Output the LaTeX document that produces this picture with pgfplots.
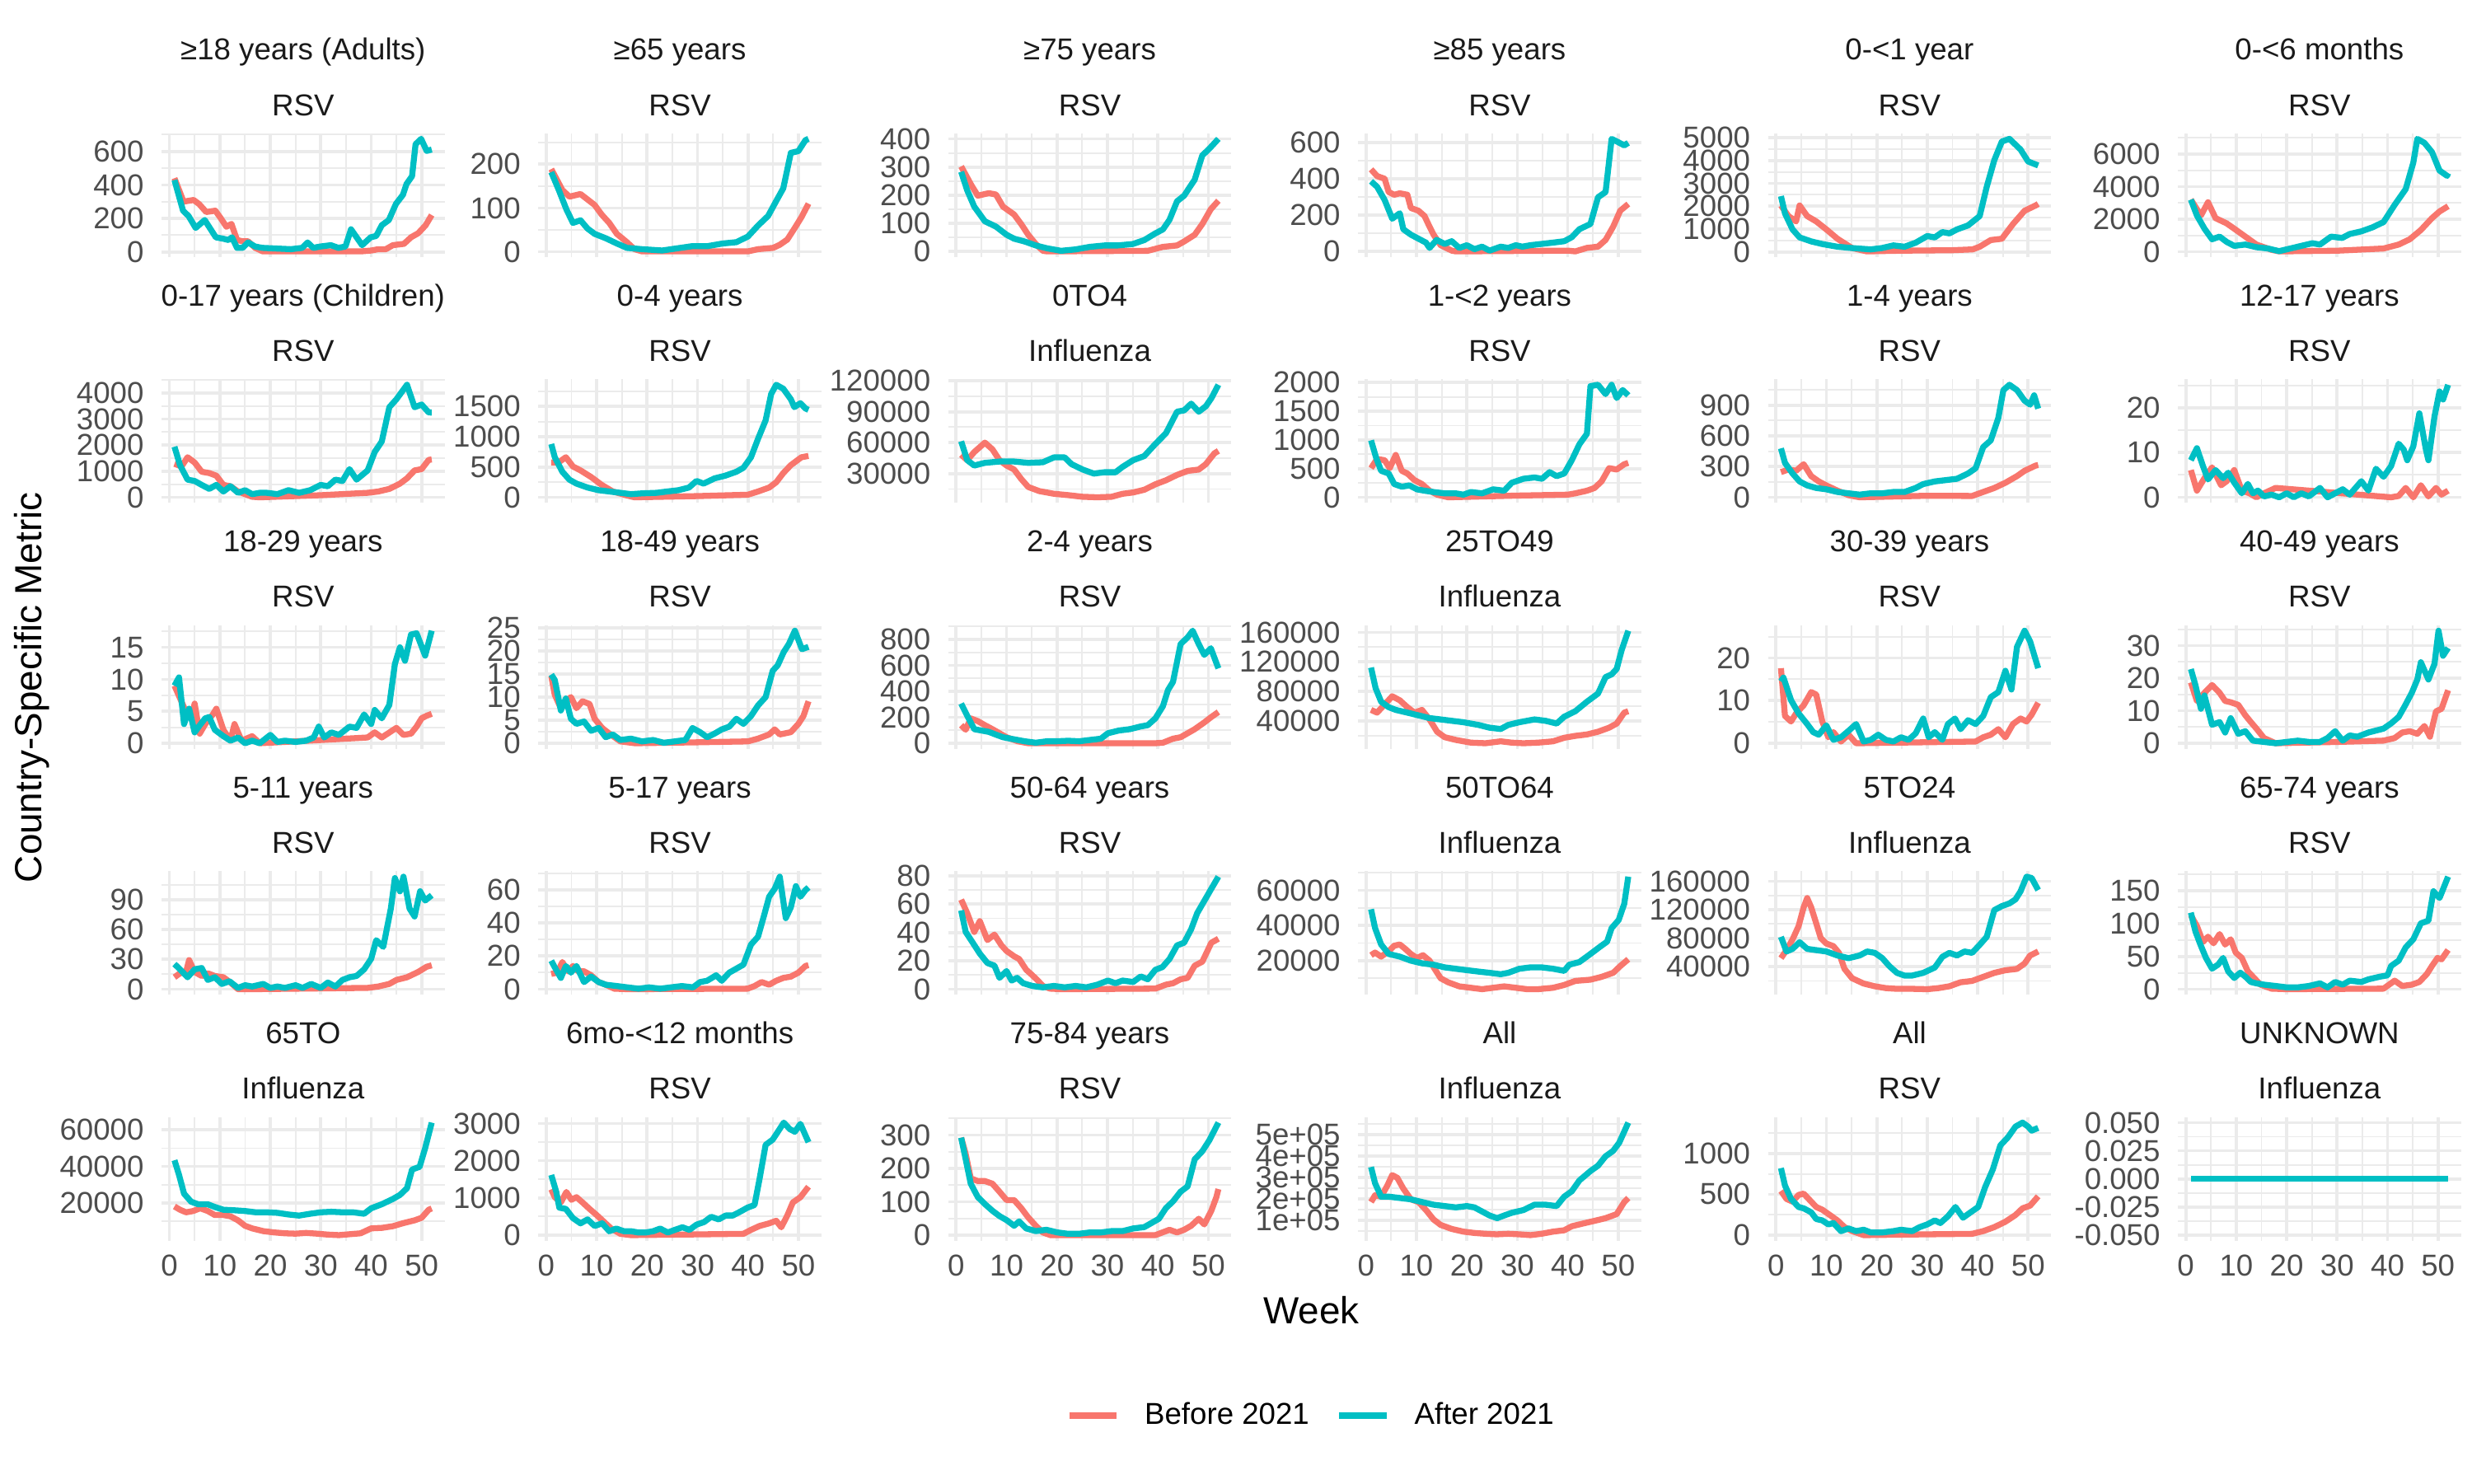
\documentclass[border=0pt]{standalone}
\usepackage{pgfplots}
\pgfplotsset{compat=1.18}
\usepackage{fontspec}
\setmainfont{Liberation Sans}
\definecolor{cb}{HTML}{F8766D}
\definecolor{ca}{HTML}{00BFC4}
\definecolor{gridc}{HTML}{EBEBEB}
\definecolor{tickc}{HTML}{4D4D4D}
\definecolor{stripc}{HTML}{1A1A1A}
\newcommand\fs{\fontsize{8.8}{10.5}\selectfont}
\newcommand\fl{\fontsize{11}{13}\selectfont}
\def\cA{47.07pt}\def\cB{156.81pt}\def\cC{276.20pt}\def\cD{395.58pt}\def\cE{514.97pt}\def\cF{634.36pt}
\def\rA{-38.80pt}\def\rB{-110.43pt}\def\rC{-182.06pt}\def\rD{-253.70pt}\def\rE{-325.33pt}
\newcommand{\strip}[2]{%
 \node[font=\fs, text=stripc, anchor=base, inner sep=0pt, yshift=21.3pt] at (rel axis cs:0.5,1) {#1};
 \node[font=\fs, text=stripc, anchor=base, inner sep=0pt, yshift=5.2pt] at (rel axis cs:0.5,1) {#2};}
\pgfplotsset{
 bef/.style={color=cb, line width=1.75pt, line join=round, mark=none},
 aft/.style={color=ca, line width=1.75pt, line join=round, mark=none},
 panel/.style={
  scale only axis, width=82.42pt, height=36.05pt, anchor=north west,
  xmin=-1.55, xmax=54.55, enlarge x limits=false,
  xtick={0,10,20,30,40,50}, minor xtick={5,15,25,35,45},
  axis line style={draw=none}, major tick length=0pt, minor tick length=0pt,
  tick style={draw=none},
  grid=both,
  major grid style={color=gridc, line width=0.9pt},
  minor grid style={color=gridc, line width=0.45pt},
  enlarge y limits=0.05,
  scaled y ticks=false,
  clip=false,
  /pgf/number format/assume math mode=true,
  /pgf/number format/fixed, /pgf/number format/1000 sep={},
  ticklabel style={font=\fs, text=tickc},
  yticklabel style={anchor=east, inner sep=0pt, xshift=-5pt},
  xticklabel style={anchor=north, inner sep=0pt, yshift=-4pt},
 },
 nox/.style={xticklabels={}},
}
\begin{document}
\begin{tikzpicture}
\useasboundingbox (0,0) rectangle (720pt,-432pt);
% ---------------- Row 1
\begin{axis}[panel, nox, at={(\cA,\rA)}, ytick={0,200,400,600}, minor ytick={-100,100,300,500,700}]
\addplot[bef] coordinates {(1,440)(2.8,300)(4.8,310)(5.9,285)(7.3,238)(9.1,246)(10.2,200)(11.3,150)(12.3,167)(13.4,71)(14.5,63)(15.6,63)(17,24)(18.5,3)(38,3)(40,8)(41.4,16)(42.9,16)(44.3,40)(46.5,48)(47.9,87)(49.3,111)(50.8,159)(52,220)};
\addplot[aft] coordinates {(1,429)(2.7,246)(3.8,214)(5.2,143)(7,190)(9.2,87)(10.6,79)(11.7,71)(12.4,87)(13.4,24)(14.5,24)(15.6,56)(17,32)(18.4,24)(24.1,16)(26.3,24)(27.4,56)(28.5,24)(29.9,32)(32,40)(33.5,24)(34.9,32)(36,135)(38.2,40)(39.9,87)(41,95)(42.1,159)(43.5,190)(44.9,286)(46.3,341)(47,405)(48.1,452)(48.8,643)(49.9,675)(51,603)(52,611)};
\strip{≥18 years (Adults)}{RSV}
\end{axis}
\begin{axis}[panel, nox, at={(\cB,\rA)}, ytick={0,100,200}, minor ytick={-50,50,150,250}]
\addplot[bef] coordinates {(1,189)(3.2,141)(4.6,126)(6.8,132)(9.6,107)(11,85)(12.5,66)(14,41)(16,22)(17.5,6)(19,1)(40,1)(42,6)(45,9)(46.3,16)(47.8,28)(49.2,53)(50.6,79)(52,110)};
\addplot[aft] coordinates {(1,182)(2.5,141)(4,97)(5.3,66)(6.8,72)(8.2,53)(9.6,41)(11.8,31)(14,19)(16,9)(19,6)(23,3)(26,8)(29,13)(32,13)(35,19)(37.7,22)(40,35)(42,60)(44,82)(45.6,116)(47,145)(48.5,226)(50,230)(51.4,255)(52,258)};
\strip{≥65 years}{RSV}
\end{axis}
\begin{axis}[panel, nox, at={(\cC,\rA)}, ytick={0,100,200,300,400}, minor ytick={-50,50,150,250,350,450}]
\addplot[bef] coordinates {(1,302)(3,236)(4.3,198)(6.5,207)(7.9,202)(9.3,159)(11.5,131)(12.9,97)(14.3,59)(15.8,26)(17.2,2)(18,0)(38,2)(41,16)(43.8,21)(45.2,35)(47.3,59)(48.8,97)(50.5,150)(52,180)};
\addplot[aft] coordinates {(1,283)(2.2,217)(3.6,159)(5.7,107)(7.9,88)(10,59)(11.5,45)(13.6,35)(15.8,21)(18,11)(20.8,2)(23.7,7)(26.5,16)(29.4,21)(32,21)(35,26)(37.3,40)(39.5,64)(41,78)(42.3,112)(43.8,178)(45.2,198)(47.3,255)(48.8,341)(50.2,365)(52,400)};
\strip{≥75 years}{RSV}
\end{axis}
\begin{axis}[panel, nox, at={(\cD,\rA)}, ytick={0,200,400,600}, minor ytick={-100,100,300,500,700}]
\addplot[bef] coordinates {(1,452)(2.2,415)(3.7,400)(4.5,327)(5.6,312)(6.7,320)(8.2,312)(8.9,239)(10.4,224)(11.6,195)(12.6,136)(13.4,92)(14.8,34)(17,4)(17.8,0)(40,4)(41.5,0)(43.8,19)(46,26)(47.5,63)(49,136)(50.4,224)(52,261)};
\addplot[aft] coordinates {(1,386)(2.2,356)(3.7,283)(5.2,180)(6.7,210)(7.4,122)(8.9,92)(10.4,70)(11.9,48)(12.6,19)(14,63)(15.6,41)(17,56)(18.5,19)(20,34)(21.5,12)(23,26)(24.5,4)(26.7,26)(28.2,19)(29.7,34)(31,26)(32.6,34)(34.8,41)(37,48)(39.3,56)(40.8,78)(42.3,122)(44.5,151)(46,298)(47.5,327)(48.7,620)(49.7,606)(51.2,584)(52,598)};
\strip{≥85 years}{RSV}
\end{axis}
\begin{axis}[panel, nox, at={(\cE,\rA)}, ytick={0,1000,2000,3000,4000,5000}, minor ytick={-500,500,1500,2500,3500,4500,5500}]
\addplot[bef] coordinates {(1,2035)(2.5,1570)(4,1337)(4.7,2035)(6.2,1570)(8,1337)(10,988)(12.2,581)(15.1,174)(18,30)(25,60)(35,80)(39,116)(40.4,232)(42.6,523)(44.8,581)(47,1221)(49.3,1802)(51.5,2035)(52,2100)};
\addplot[aft] coordinates {(1,2442)(1.8,1686)(3.3,988)(4.7,640)(7,465)(9.2,349)(12.2,233)(15.1,174)(18.8,116)(21,174)(23.3,291)(25.5,233)(27.7,407)(30,698)(31.5,640)(33,872)(34.4,814)(35.9,988)(38.1,1163)(40.4,1570)(41.8,2849)(43.3,4012)(44.8,4826)(46.3,4942)(48.5,4477)(50,3954)(52,3780)};
\strip{0-<1 year}{RSV}
\end{axis}
\begin{axis}[panel, nox, at={(\cF,\rA)}, ytick={0,2000,4000,6000}, minor ytick={-1000,1000,3000,5000,7000}]
\addplot[bef] coordinates {(1,3203)(3,2228)(4.4,3040)(5.9,2065)(8.1,1740)(9.6,1415)(11.8,927)(14,439)(17,114)(18.5,20)(30,60)(39.2,195)(42.2,439)(44.4,764)(46.6,1333)(48.8,2065)(50.3,2472)(52,2797)};
\addplot[aft] coordinates {(1,3203)(2.2,2228)(3.7,1415)(5.2,764)(6.7,927)(8.1,602)(9.6,358)(11.8,439)(14,276)(16.3,195)(18.5,33)(20.7,195)(22.9,358)(25.1,520)(26.6,439)(28.8,927)(31,846)(32.5,1089)(34.8,1252)(37,1496)(39.2,1821)(41.4,2878)(43.6,3854)(45.1,5480)(45.9,6943)(47.3,6699)(48.8,6130)(50.3,4992)(51.8,4667)(52,4829)};
\strip{0-<6 months}{RSV}
\end{axis}
% ---------------- Row 2
\begin{axis}[panel, nox, at={(\cA,\rB)}, ytick={0,1000,2000,3000,4000}, minor ytick={-500,500,1500,2500,3500,4500}]
\addplot[bef] coordinates {(1,1283)(2.4,1182)(3.6,1535)(5,1333)(6.4,980)(7.9,929)(9.3,828)(10.7,475)(12.1,424)(13.6,222)(15,121)(16.4,20)(17.9,0)(30,80)(39.3,172)(41.4,222)(43.6,323)(45.7,525)(47.1,727)(48.6,1030)(50,1081)(51.4,1434)(52,1450)};
\addplot[aft] coordinates {(1,1939)(2.1,1232)(3.6,677)(5,626)(6.4,475)(7.9,323)(9.3,475)(10.7,222)(12.1,424)(13.6,172)(15,273)(16.4,121)(17.9,172)(19.3,172)(21.4,121)(23.6,273)(25.7,172)(27.9,273)(30,475)(31.4,424)(32.9,677)(34.3,626)(35.7,1081)(37.1,677)(39.3,1030)(40.7,1737)(42.1,2141)(43.6,3454)(45,3757)(47.1,4313)(48.6,3454)(50,3555)(51.4,3252)(52,3250)};
\strip{0-17 years (Children)}{RSV}
\end{axis}
\begin{axis}[panel, nox, at={(\cB,\rB)}, ytick={0,500,1000,1500}, minor ytick={-250,250,750,1250,1750}]
\addplot[bef] coordinates {(1,574)(2.4,574)(3.9,661)(5.3,509)(6.8,444)(8.9,335)(11,205)(13.2,96)(16,30)(17.5,0)(30,20)(40,43)(42,96)(44.2,161)(45.6,248)(47,400)(48.5,531)(50.6,661)(52,683)};
\addplot[aft] coordinates {(1,879)(1.7,661)(3.2,422)(4.6,291)(6,226)(8.2,161)(10.4,117)(12.5,96)(14.7,74)(16.8,52)(19,65)(21.9,74)(24,96)(26.2,117)(28.3,161)(29.8,270)(31.2,226)(33.4,313)(35.5,357)(37.7,422)(39.1,487)(40.6,661)(42,966)(43.5,1270)(44.6,1705)(45.6,1857)(47,1792)(48.5,1618)(49.2,1488)(50.4,1553)(51.4,1466)(52,1444)};
\strip{0-4 years}{RSV}
\end{axis}
\begin{axis}[panel, nox, at={(\cC,\rB)}, ytick={30000,60000,90000,120000}, minor ytick={15000,45000,75000,105000,135000}]
\addplot[bef] coordinates {(1,48300)(2.2,43000)(3.6,50900)(5.7,60000)(7.2,53500)(8.6,43000)(10,37800)(11.5,33900)(12.9,24800)(14.3,17000)(16.5,13000)(19.4,10400)(22.2,9100)(25.1,7500)(28,7000)(30.8,7500)(33,10400)(35.1,11700)(37.3,14300)(39.5,19600)(41.6,23500)(43.8,28700)(45.9,32600)(48.1,33900)(49.5,39100)(51.2,49600)(52,52000)};
\addplot[aft] coordinates {(1,61300)(2.2,43000)(3.6,37800)(5.7,40400)(8.6,41700)(11.5,41700)(14.3,40400)(17.2,41000)(19.4,45700)(21.5,45700)(22.9,39100)(25.1,33900)(27.3,30000)(29.4,31300)(31.6,31300)(33,36500)(35.1,43000)(37.3,47000)(39.5,58700)(41.6,69100)(43.8,90000)(45.2,91300)(46.6,97800)(48.1,90000)(49.5,95200)(50.6,103000)(52,116100)};
\strip{0TO4}{Influenza}
\end{axis}
\begin{axis}[panel, nox, at={(\cD,\rB)}, ytick={0,500,1000,1500,2000}, minor ytick={-250,250,750,1250,1750,2250}]
\addplot[bef] coordinates {(1,508)(2.2,669)(3.7,646)(4.7,508)(5.9,739)(7.1,462)(8.2,415)(9.6,300)(11.1,231)(12.6,115)(14.1,46)(16.3,0)(30,30)(40,46)(41.5,69)(43.8,115)(45.3,162)(46.7,277)(48.2,508)(49.7,485)(51.2,577)(52,600)};
\addplot[aft] coordinates {(1,993)(2,693)(3,462)(4.5,415)(5.6,231)(7.1,185)(8.6,208)(10.1,139)(11.6,115)(13.4,92)(15.6,69)(17.8,69)(19.3,46)(20.8,92)(23,69)(25.2,139)(27.4,115)(28.9,254)(31.2,323)(33.4,346)(34.9,323)(36.4,439)(37.8,369)(39.3,415)(40.8,646)(42.3,923)(43.8,1108)(44.5,1939)(46,1962)(47.5,1800)(48.7,1962)(49.7,1731)(50.9,1870)(52,1777)};
\strip{1-<2 years}{RSV}
\end{axis}
\begin{axis}[panel, nox, at={(\cE,\rB)}, ytick={0,300,600,900}, minor ytick={-150,150,450,750,1050}]
\addplot[bef] coordinates {(1,246)(2.5,272)(4,259)(5.5,323)(7,207)(8.5,155)(10,116)(12.2,65)(14.4,21)(16.6,0)(30,15)(38.9,13)(41.1,52)(43.3,91)(45.5,142)(47.8,207)(49.3,259)(51.5,310)(52,315)};
\addplot[aft] coordinates {(1,478)(1.8,336)(3.3,233)(4.7,155)(6.2,116)(8,91)(10,78)(12.2,52)(14.4,39)(16.6,26)(18.8,39)(21.1,39)(23.3,52)(25.5,52)(27.7,91)(29.2,129)(31.5,155)(33.7,168)(35.9,181)(38.1,233)(39.6,284)(41.1,491)(42.6,556)(44.1,776)(45.1,1047)(46.3,1099)(47.8,1047)(49.3,944)(50.4,905)(51.2,996)(52,866)};
\strip{1-4 years}{RSV}
\end{axis}
\begin{axis}[panel, nox, at={(\cF,\rB)}, ytick={0,10,20}, minor ytick={-5,5,15,25}]
\addplot[bef] coordinates {(1,6.1)(2.2,1.5)(3.7,4.3)(5.2,6.7)(7,2.7)(8.1,3.6)(9.6,6.1)(11.1,1.5)(12.6,0.9)(14,0)(15.5,0.9)(17.8,2.1)(40.7,0)(42.2,0.3)(43.6,2.1)(45.1,0)(46.6,2.7)(48.1,0.2)(49.6,2.1)(50.7,0.6)(52,1.5)};
\addplot[aft] coordinates {(1,8.3)(2.2,11)(3.4,7)(4.4,4)(5.9,6.1)(7.4,4.3)(8.4,5.5)(9.6,3.3)(11.1,0.9)(12.3,3)(13.3,0.9)(14.3,1.5)(15.5,0.2)(17,0.6)(18.5,0)(20,0.9)(21.4,0)(22.9,0.9)(24.4,0.2)(26.6,2.1)(28.1,0)(29.6,0.9)(31.1,1.8)(32.5,0.6)(34.8,3.6)(36.2,1.5)(37.7,6.4)(39.2,4.6)(40.7,7)(42.2,12)(43.2,10.7)(43.9,8.3)(45.1,11.4)(46.3,18.8)(47.6,10.7)(48.1,8.3)(49.3,18.1)(50.3,23.7)(51,21.9)(52,25.2)};
\strip{12-17 years}{RSV}
\end{axis}
% ---------------- Row 3
\begin{axis}[panel, nox, at={(\cA,\rC)}, ytick={0,5,10,15}, minor ytick={-2.5,2.5,7.5,12.5,17.5}]
\addplot[bef] coordinates {(1,9)(2.9,5.6)(4.3,3.9)(5,6.2)(6,1.5)(7.1,3)(8.6,4.5)(9.3,5.4)(10.7,2.1)(12.1,0.4)(12.9,3)(14.3,0.4)(16.4,1.1)(17.9,0)(30,0.5)(39.3,0.9)(40.7,1.7)(42.1,0.9)(45,2.4)(46.4,1.3)(47.9,1.5)(49,2.6)(50,3.9)(51,4.3)(52,4.6)};
\addplot[aft] coordinates {(1,9)(1.9,10.3)(2.9,3)(3.9,5.4)(5,1.7)(6,2.8)(7.1,3.9)(7.9,4.1)(9,2.1)(10.7,1.1)(12.1,0.4)(13.6,0.9)(15,0)(16.4,0.4)(17.9,0)(20,1.3)(21.4,0.2)(22.9,0.4)(25,0.2)(27.1,0.4)(28.6,0.9)(29.6,2.6)(30.7,0.9)(32.1,1.7)(33.6,1.3)(35.7,2.6)(37.1,2.4)(38.6,4.5)(40,3)(40.7,5.2)(42.1,3.9)(43.6,6)(44.7,12.4)(45.7,15)(46.7,12.9)(47.9,17)(49,17.2)(50.7,13.7)(52,17.6)};
\strip{18-29 years}{RSV}
\end{axis}
\begin{axis}[panel, nox, at={(\cB,\rC)}, ytick={0,5,10,15,20,25}, minor ytick={-2.5,2.5,7.5,12.5,17.5,22.5,27.5}]
\addplot[bef] coordinates {(1,14.6)(1.7,10.5)(2.9,7.6)(3.9,9.1)(4.9,10)(6,7.6)(7.2,9.1)(8.6,8.5)(9.6,5.3)(11.1,3.3)(12.5,2.1)(14.7,0.4)(17.6,0)(30,0.2)(40,0.4)(42,1)(44.2,1.9)(45.3,3)(46.3,1.9)(48.5,2.4)(50,4.2)(51,5.9)(52,9.1)};
\addplot[aft] coordinates {(1,14.9)(1.7,13.7)(2.9,7.1)(3.9,9.7)(4.9,5.3)(6,4.2)(7.5,4.7)(8.9,2.7)(10.4,3.3)(11.8,1.3)(13.2,1.9)(14.7,0.7)(16.8,1)(19,0.4)(21.2,0.7)(23.3,0.1)(25.5,0.4)(27.6,0.7)(29,3.3)(30.5,2.4)(31.9,1.3)(33.4,2.1)(34.8,3)(36.3,3.6)(37.7,5.3)(39.1,4.2)(40.6,5.9)(42,8.2)(43.5,10)(44.9,15.7)(45.9,16.9)(47.1,19.8)(48.1,21.5)(49.3,24.4)(50.7,20.4)(52,20.9)};
\strip{18-49 years}{RSV}
\end{axis}
\begin{axis}[panel, nox, at={(\cC,\rC)}, ytick={0,200,400,600,800}, minor ytick={-100,100,300,500,700,900}]
\addplot[bef] coordinates {(1,139)(1.9,104)(2.9,191)(4.3,170)(5.7,139)(7.2,108)(8.6,77)(10,46)(12.2,15)(14.3,0)(39.5,0)(41,4)(43,35)(44.5,46)(45.9,77)(47.3,108)(49.2,160)(50.6,202)(52,240)};
\addplot[aft] coordinates {(1,305)(2.2,212)(3.6,108)(5,98)(6.5,87)(7.9,66)(9.3,46)(10.8,35)(12.2,25)(13.6,15)(15.8,4)(18,15)(20,15)(22.2,19)(24.4,15)(26.5,25)(28.7,35)(30.1,77)(32.3,98)(34.4,108)(36.6,129)(38,139)(39.5,191)(41,285)(42,409)(43,472)(44.5,763)(45.9,815)(46.9,866)(48.1,763)(49.2,680)(50.5,731)(52,576)};
\strip{2-4 years}{RSV}
\end{axis}
\begin{axis}[panel, nox, at={(\cD,\rC)}, ytick={40000,80000,120000,160000}, minor ytick={20000,60000,100000,140000}]
\addplot[bef] coordinates {(1,54800)(2.2,51100)(3.7,62200)(5.2,73300)(6.7,67800)(8.2,58500)(9.6,51100)(11.1,54800)(12.6,41900)(14.1,25200)(15.6,17800)(17.8,14100)(20.8,10400)(23.7,9600)(26.7,12200)(28.9,10400)(31.2,9600)(34.1,10400)(37.1,12200)(39.3,17000)(41.5,19600)(43.8,21500)(46,25200)(48.2,30700)(49.7,36300)(51.2,51100)(52,53000)};
\addplot[aft] coordinates {(1,112200)(1.9,84400)(3,65900)(4.5,58500)(5.9,54800)(8.2,51100)(10.4,47400)(12.6,43700)(14.8,41900)(17,40000)(19.3,38100)(22.3,34400)(24.5,30700)(26.7,28900)(28.2,34400)(30.4,38100)(33.4,41900)(35.6,40000)(37.8,36300)(39.3,45600)(41.5,53000)(43.8,65900)(46,77000)(47.5,99300)(48.7,103000)(49.7,110400)(50.7,136300)(52,162200)};
\strip{25TO49}{Influenza}
\end{axis}
\begin{axis}[panel, nox, at={(\cE,\rC)}, ytick={0,10,20}, minor ytick={-5,5,15,25}]
\addplot[bef] coordinates {(1,17.6)(1.8,6.4)(3,5.1)(4,7)(5.5,8.9)(7,12)(8,11.4)(9.2,5.1)(10.4,1.4)(11.4,2.6)(12.9,0.4)(14.4,2)(15.9,0)(39.6,0.4)(41.1,1.4)(42.6,2)(44.1,3.3)(45.5,1.4)(47,4.5)(48.5,5.8)(49.7,5.1)(50.7,6.7)(52,9.5)};
\addplot[aft] coordinates {(1,14.5)(1.5,15.4)(3,10.1)(4.5,7)(6.2,4.5)(7.4,2.6)(8.5,2)(10,4.2)(11.4,0.8)(12.9,1.4)(14.4,2.9)(15.9,4.5)(17.4,0.4)(18.8,0.8)(20.3,2)(21.8,0.8)(23.3,0.4)(24.8,1.4)(26.3,0.8)(27.7,2.3)(29.2,5.8)(30.3,1.4)(31.5,2.6)(33,0.8)(34.1,4.5)(35.5,5.8)(36.6,3.3)(38.1,5.4)(39.6,4.5)(41.1,6.4)(42.6,10.8)(44.1,12)(45.5,17)(46.7,12.6)(47.8,22.6)(49.3,26.4)(50.4,23.9)(52,17.6)};
\strip{30-39 years}{RSV}
\end{axis}
\begin{axis}[panel, nox, at={(\cF,\rC)}, ytick={0,10,20,30}, minor ytick={-5,5,15,25,35}]
\addplot[bef] coordinates {(1,18.7)(2.2,13)(3.7,15.5)(5.2,17.9)(6.7,15.5)(7.8,13)(8.9,12.6)(10.4,11.8)(11.8,8.6)(12.9,6.5)(14,4.5)(15.5,1.6)(17.8,0)(30,0.4)(39.2,0.8)(41.4,1.6)(42.9,3.3)(44.4,3.7)(45.9,2.9)(47.3,5.3)(48.4,2)(49.6,9.8)(50.7,10.6)(52,16.3)};
\addplot[aft] coordinates {(1,22.8)(1.9,17.9)(3,10.6)(3.7,14.7)(5.2,5.7)(6.7,6.5)(7.8,3.3)(8.9,7.7)(10.4,2.9)(11.8,3.7)(13.3,0.8)(15.5,0.4)(17.8,0)(20,0.4)(22.2,0.8)(24.4,0.4)(26.6,0.4)(28.1,1.6)(29.6,3.7)(31.1,0.8)(32.5,2.4)(34,2)(36.2,3.3)(39.2,4.5)(40.7,6.1)(42.2,8.1)(43.4,11.4)(44.8,15.5)(45.9,19.6)(46.6,24.9)(48.1,19.6)(49.3,24.4)(50.1,34.6)(51,26.9)(52,29.3)};
\strip{40-49 years}{RSV}
\end{axis}
% ---------------- Row 4
\begin{axis}[panel, nox, at={(\cA,\rD)}, ytick={0,30,60,90}, minor ytick={-15,15,45,75,105}]
\addplot[bef] coordinates {(1,12)(2.1,16)(3.3,17.3)(3.9,29.3)(5,17.3)(6.4,13.3)(7.6,16)(9,13.3)(10.7,12)(12.1,6.7)(13.6,0)(16.4,0)(39.3,1.3)(41.4,2.7)(43.6,5.3)(45,9.3)(47.1,12)(49.3,17.3)(51,22.6)(52,24)};
\addplot[aft] coordinates {(1,25.3)(2.1,20)(3.6,12)(5,20)(6.4,21.3)(7.6,9.3)(9,12)(10.4,5.3)(11.9,8)(13.6,1.3)(15,4)(16.4,2.7)(18.6,5.3)(20,1.3)(21.4,2.7)(22.9,1.3)(25,4)(26.4,1.3)(28.1,5.3)(30,1.3)(31.4,6.7)(32.9,2.7)(34.3,9.3)(35.7,12)(37.1,13.3)(38.6,20)(40,30.6)(41,49.3)(42.4,42.6)(43.9,81.2)(44.7,111.8)(45.7,98.5)(46.4,113.2)(47.6,81.2)(48.6,73.2)(49.7,98.5)(50.7,89.2)(52,94.5)};
\strip{5-11 years}{RSV}
\end{axis}
\begin{axis}[panel, nox, at={(\cB,\rD)}, ytick={0,20,40,60}, minor ytick={-10,10,30,50,70}]
\addplot[bef] coordinates {(1,9.2)(2.2,10)(3.2,16.4)(4.3,10.8)(5.3,14)(6.3,10.8)(7.5,10.8)(8.9,8.4)(10.4,4.3)(11.8,2.7)(13.5,0.3)(16.1,0)(39.9,0.3)(41.3,1.9)(42.7,4.3)(44.2,2.7)(45.6,5.1)(47,6.8)(48.5,7.6)(50,10)(51.4,14)(52,14.5)};
\addplot[aft] coordinates {(1,17.2)(1.7,13.2)(2.9,6.8)(3.9,14)(4.9,10)(6,14)(7.5,4.3)(8.9,7.6)(10.4,4.3)(11.8,2.7)(14,1.9)(16.1,1.1)(18.3,0.3)(20.4,1.1)(22.6,0.3)(24.7,1.1)(26.9,1.9)(29.1,1.1)(30.5,4.3)(31.9,5.1)(33.7,8.4)(34.8,5.1)(36.3,10)(37.7,12.4)(39.1,14.8)(40.6,26.9)(42,31.7)(43.2,44.6)(44.2,55.8)(45.3,60.6)(46.3,67.9)(47.5,42.9)(48.5,49.4)(49.5,62.2)(50.4,55.8)(51.4,59.8)(52,61.4)};
\strip{5-17 years}{RSV}
\end{axis}
\begin{axis}[panel, nox, at={(\cC,\rD)}, ytick={0,20,40,60,80}, minor ytick={-10,10,30,50,70,90}]
\addplot[bef] coordinates {(1,63.2)(2.2,53.7)(3.6,40.4)(4.7,48)(6.2,34.7)(7.6,38.5)(9,30.9)(10,27)(11.5,23.2)(12.5,21.3)(13.9,13.7)(15.1,9.9)(16.2,6.1)(17.2,2.3)(18.6,0.4)(20.8,0)(39.5,0.4)(41.6,3.2)(43,4.2)(44.5,7)(45.9,8)(47.3,16.6)(48.8,19.4)(50.6,32.8)(52,35.6)};
\addplot[aft] coordinates {(1,55.6)(1.9,40.4)(3.3,32.8)(4.7,25.1)(6.2,18.5)(7.6,16.6)(8.6,8)(10,12.8)(11,6.1)(12.1,8)(13.3,4.2)(15.1,2.3)(17.2,1.3)(19.4,2.3)(21.5,1.3)(23.7,2.3)(25.8,1.3)(28,3.2)(30.1,6.1)(31.6,4.2)(33,6.1)(35.1,5.1)(36.6,9)(38,7)(39.5,13.7)(40.9,15.6)(42.3,21.3)(43.8,30.9)(45.2,32.8)(46.6,42.3)(47.8,53.7)(49.2,62.3)(50.6,70.9)(52,79.4)};
\strip{50-64 years}{RSV}
\end{axis}
\begin{axis}[panel, nox, at={(\cD,\rD)}, ytick={20000,40000,60000}, minor ytick={10000,30000,50000,70000}]
\addplot[bef] coordinates {(1,23100)(1.8,24600)(3,22300)(4.5,25400)(5.6,28500)(6.7,29200)(7.7,26900)(8.9,23800)(10.1,21500)(11.3,23100)(12.6,20000)(13.6,15400)(14.8,10000)(16.3,7700)(18.5,5400)(20.8,4600)(23,3800)(25.2,4600)(27.4,5400)(29.7,4600)(31.9,3800)(34.1,3800)(37.1,4600)(39.3,6200)(41.5,8500)(44.5,9200)(46.7,10800)(49,13100)(50.4,16900)(52,20800)};
\addplot[aft] coordinates {(1,49200)(1.8,38500)(3,29200)(4.5,23800)(6.7,22300)(8.9,20000)(11.1,18500)(13.4,17700)(15.6,16200)(17.8,15400)(20,14600)(22.3,13800)(24.5,13100)(26.7,12300)(28.2,13100)(30.4,15400)(32.6,16200)(34.8,16200)(37.1,15400)(39.3,14200)(40.3,17700)(42.3,19200)(44.5,23800)(46.3,27700)(47.8,30800)(48.7,38500)(50.1,43100)(51.2,52300)(52,67700)};
\strip{50TO64}{Influenza}
\end{axis}
\begin{axis}[panel, nox, at={(\cE,\rD)}, ytick={40000,80000,120000,160000}, minor ytick={20000,60000,100000,140000,180000}]
\addplot[bef] coordinates {(1,52000)(2.1,63300)(3.3,78300)(4.5,97000)(5.5,123300)(6.2,136400)(7,123300)(8,100800)(8.9,80100)(10,72600)(11.4,68900)(12.5,59500)(13.6,37000)(15.1,23900)(17.4,16400)(19.6,12600)(21.8,10000)(24,9000)(27,9000)(30,8500)(32.2,10000)(34.4,12600)(36.6,18200)(38.9,20100)(41.1,25800)(43.3,31400)(45.5,35100)(47.8,37000)(49.3,44500)(50.4,55800)(52,61400)};
\addplot[aft] coordinates {(1,82000)(2.1,61400)(3.3,65100)(4.7,74500)(6.2,65100)(8,63300)(10,61400)(12.2,55800)(14.4,52000)(16.6,55800)(18.1,61400)(19.6,59500)(21.1,52000)(22.5,40800)(24,31400)(25.5,27600)(27,27600)(29.2,31400)(31.5,38900)(33,53900)(34.4,59500)(35.9,55800)(37.4,61400)(38.9,59500)(40.4,70800)(41.8,82000)(43.3,119500)(44.8,125100)(46.3,128900)(47.5,134500)(48.5,145800)(49.7,166400)(50.7,164500)(52,147600)};
\strip{5TO24}{Influenza}
\end{axis}
\begin{axis}[panel, nox, at={(\cF,\rD)}, ytick={0,50,100,150}, minor ytick={-25,25,75,125,175}]
\addplot[bef] coordinates {(1,112.6)(2.2,96.3)(3.4,72)(4.4,80)(5.5,70)(6.7,84)(7.8,68)(8.9,76)(9.9,55.7)(11.1,47.6)(12.3,27.2)(13.3,19.1)(14.8,6.9)(17,0.8)(20,0)(39.2,0.8)(41.4,13)(42.9,4.9)(44.8,6.9)(46.3,11)(47.8,23.2)(48.8,35.4)(49.9,47.6)(50.7,45.5)(52,59.8)};
\addplot[aft] coordinates {(1,116.7)(1.9,88.2)(2.9,67.9)(4,47.6)(5.2,31.3)(6.4,37.4)(7.4,47.6)(8.4,27.2)(9.6,17.1)(10.8,25.2)(11.8,19.1)(12.9,11)(14,8.9)(15.5,6.9)(17.8,4.9)(20,2.8)(22.2,2.8)(24.4,4.9)(26.6,8.9)(28.1,2.8)(29.6,11)(31.1,6.9)(32.5,13)(34.8,11)(36.2,15)(38.5,19.1)(40,21.1)(40.7,35.4)(42.2,43.5)(43.6,63.8)(45.1,76)(46.6,100.4)(48.1,104.5)(49.1,149.2)(50.3,139)(52,171.5)};
\strip{65-74 years}{RSV}
\end{axis}
% ---------------- Row 5
\begin{axis}[panel, at={(\cA,\rE)}, ytick={20000,40000,60000}, minor ytick={10000,30000,50000,70000}]
\addplot[bef] coordinates {(1,18100)(2.1,16300)(3.3,14900)(4.7,15600)(6.1,17100)(7.6,15600)(9,13400)(10.7,13400)(12.1,12700)(13.6,10500)(15,7500)(16.4,6100)(18.6,4600)(20.7,3900)(22.9,3400)(25,3200)(27.1,3600)(29.3,3200)(31.4,2700)(33.6,2400)(35.7,2900)(37.9,3400)(40,6100)(42.2,6400)(44.3,7300)(46.4,9000)(48.6,10500)(50,11900)(51.4,16300)(52,17000)};
\addplot[aft] coordinates {(1,43400)(1.9,35400)(2.9,25100)(4.3,20700)(5.7,19300)(7.6,19300)(9,17800)(10.7,16300)(12.9,16000)(15,15600)(17.1,14900)(19.3,14900)(21.4,14600)(23.6,13700)(25.7,13100)(27.9,14100)(30,14900)(32.1,15200)(34.3,14900)(36.4,14900)(38.6,14100)(40,17100)(42.1,19300)(44.3,22200)(45.7,24400)(47.1,28100)(48.1,38300)(49.6,39800)(50.7,50000)(52,64000)};
\strip{65TO}{Influenza}
\end{axis}
\begin{axis}[panel, at={(\cB,\rE)}, ytick={0,1000,2000,3000}, minor ytick={-500,500,1500,2500,3500}]
\addplot[bef] coordinates {(1,1230)(1.7,1019)(2.9,878)(4,1159)(5,949)(6,1019)(7.2,878)(8.6,703)(10.1,527)(11.5,351)(12.9,176)(14.7,35)(16.8,0)(30,20)(39.1,35)(40.6,141)(42.3,246)(44.2,316)(45.6,386)(46.6,211)(47.8,527)(48.9,878)(50.4,1019)(52,1300)};
\addplot[aft] coordinates {(1,1616)(2,1159)(2.6,738)(3.9,703)(5.3,457)(6.8,316)(8.2,422)(9.6,246)(11.1,316)(12.5,105)(13.9,176)(15.4,105)(16.8,105)(18.3,70)(19.7,70)(21.2,105)(22.6,176)(24.1,70)(25.5,141)(27,211)(28.4,141)(29.8,281)(31.3,351)(32.7,492)(34.2,422)(35.6,527)(37,527)(38.5,632)(39.9,738)(41.3,808)(42.3,1511)(43.5,2424)(44.9,2565)(46.1,2811)(47.1,3022)(48.3,2846)(49.3,2776)(50.4,2987)(52,2495)};
\strip{6mo-<12 months}{RSV}
\end{axis}
\begin{axis}[panel, at={(\cC,\rE)}, ytick={0,100,200,300}, minor ytick={-50,50,150,250,350}]
\addplot[bef] coordinates {(1,292)(1.9,243)(2.9,170)(4.3,162)(5.7,162)(7.2,154)(8.6,130)(10,105)(11.5,105)(12.9,81)(14.3,53)(15.8,28)(17.2,8)(18.7,0)(39.5,0)(40.9,8)(42.3,16)(43.8,8)(45.2,16)(46.6,28)(48.1,49)(49.2,32)(50.6,73)(51.6,114)(52,138)};
\addplot[aft] coordinates {(1,292)(1.9,227)(2.9,154)(4.3,114)(5.7,93)(7.2,73)(8.6,57)(10,45)(11.5,28)(12.5,41)(13.9,20)(15.8,12)(17.9,16)(20.1,8)(22.2,4)(24.4,4)(26.5,8)(28.7,8)(30.8,12)(33,12)(35.1,20)(37.3,24)(38.7,36)(40.2,49)(41.6,81)(43,101)(44.5,130)(45.9,146)(47.3,227)(48.8,251)(50.2,284)(52,337)};
\strip{75-84 years}{RSV}
\end{axis}
\begin{axis}[panel, at={(\cD,\rE)}, ytick={100000,200000,300000,400000,500000}, yticklabels={1e+05,2e+05,3e+05,4e+05,5e+05}, minor ytick={50000,150000,250000,350000,450000,550000},
  legend columns=2, legend cell align=left,
  legend image code/.code={\draw[#1, line width=1.75pt] (0pt,0pt) -- (13.8pt,0pt);},
  legend style={at={(-0.17,-1.4125)}, anchor=center, draw=none, fill=none, inner sep=0pt, font=\fs,
    nodes={inner sep=0pt, text=black},
    /tikz/every odd column/.append style={column sep=7.3pt},
    /tikz/every even column/.append style={column sep=7.8pt}}]
\addplot[bef] coordinates {(1,185500)(1.8,217000)(3,210700)(4.2,261000)(5.2,311300)(6.2,298800)(7.4,248400)(8.9,198100)(10.4,185500)(11.9,147800)(13.4,103800)(14.8,78600)(17,59700)(19.3,47200)(21.5,40900)(23.7,37100)(25.9,34600)(28.2,37100)(30.4,34600)(32.6,30800)(34.8,37100)(37.1,47200)(39.3,53500)(40.8,72300)(43,84900)(45.3,97500)(47.5,110100)(49.7,129000)(51.2,185500)(52,204400)};
\addlegendentry{Before 2021}
\addplot[aft] coordinates {(1,349100)(1.8,273600)(3,210700)(4.5,210700)(6.7,204400)(8.9,198100)(11.1,185500)(13.4,173000)(15.6,166700)(17.8,160400)(20,166700)(21.5,160400)(23,141500)(24.5,122600)(26,110100)(27.4,122600)(28.9,135200)(31.2,147800)(33.4,173000)(35.6,173000)(37.8,166700)(39.3,210700)(40.8,235900)(42.3,286200)(44.5,330200)(46,355400)(47.5,399400)(49,424600)(50.2,462300)(52,556700)};
\addlegendentry{After 2021}
\strip{All}{Influenza}
\end{axis}
\begin{axis}[panel, at={(\cE,\rE)}, ytick={0,500,1000}, minor ytick={-250,250,750,1250}]
\addplot[bef] coordinates {(1,541)(2.1,443)(3.3,410)(4.5,492)(5.5,508)(7,410)(8,344)(9.2,311)(10.7,246)(12.2,180)(13.6,98)(15.1,49)(17.4,0)(30,10)(38.9,16)(41.1,49)(43.3,98)(45.5,164)(47.5,246)(48.9,328)(50.4,361)(52,475)};
\addplot[aft] coordinates {(1,820)(1.8,607)(3,443)(4.5,344)(5.5,328)(7,279)(8,197)(9.2,180)(10.4,131)(11.4,148)(12.9,49)(14.4,82)(15.9,49)(17.4,66)(18.8,33)(21.1,33)(23.3,49)(24.8,66)(27,49)(28.5,98)(30,131)(31.5,180)(32.6,148)(34.1,230)(35.6,344)(37.1,213)(38.6,279)(40.1,344)(41.5,590)(43,803)(44.5,1098)(46,1197)(47.5,1328)(48.9,1377)(50,1328)(50.7,1279)(52,1312)};
\strip{All}{RSV}
\end{axis}
\begin{axis}[panel, at={(\cF,\rE)}, ymin=-0.055, ymax=0.055, enlarge y limits=false,
  ytick={-0.05,-0.025,0,0.025,0.05}, yticklabels={-0.050,-0.025,0.000,0.025,0.050},
  minor ytick={-0.0375,-0.0125,0.0125,0.0375}]
\addplot[bef] coordinates {(1,0)(10,0)(20,0)(30,0)(40,0)(52,0)};
\addplot[aft] coordinates {(1,0)(10,0)(20,0)(30,0)(40,0)(52,0)};
\strip{UNKNOWN}{Influenza}
\end{axis}
% ---------------- titles
\node[font=\fl, anchor=center] at (381.9pt,-381.6pt) {Week};
\node[font=\fl, anchor=center, rotate=90] at (9.2pt,-200.2pt) {Country-Specific Metric};
\end{tikzpicture}
\end{document}
